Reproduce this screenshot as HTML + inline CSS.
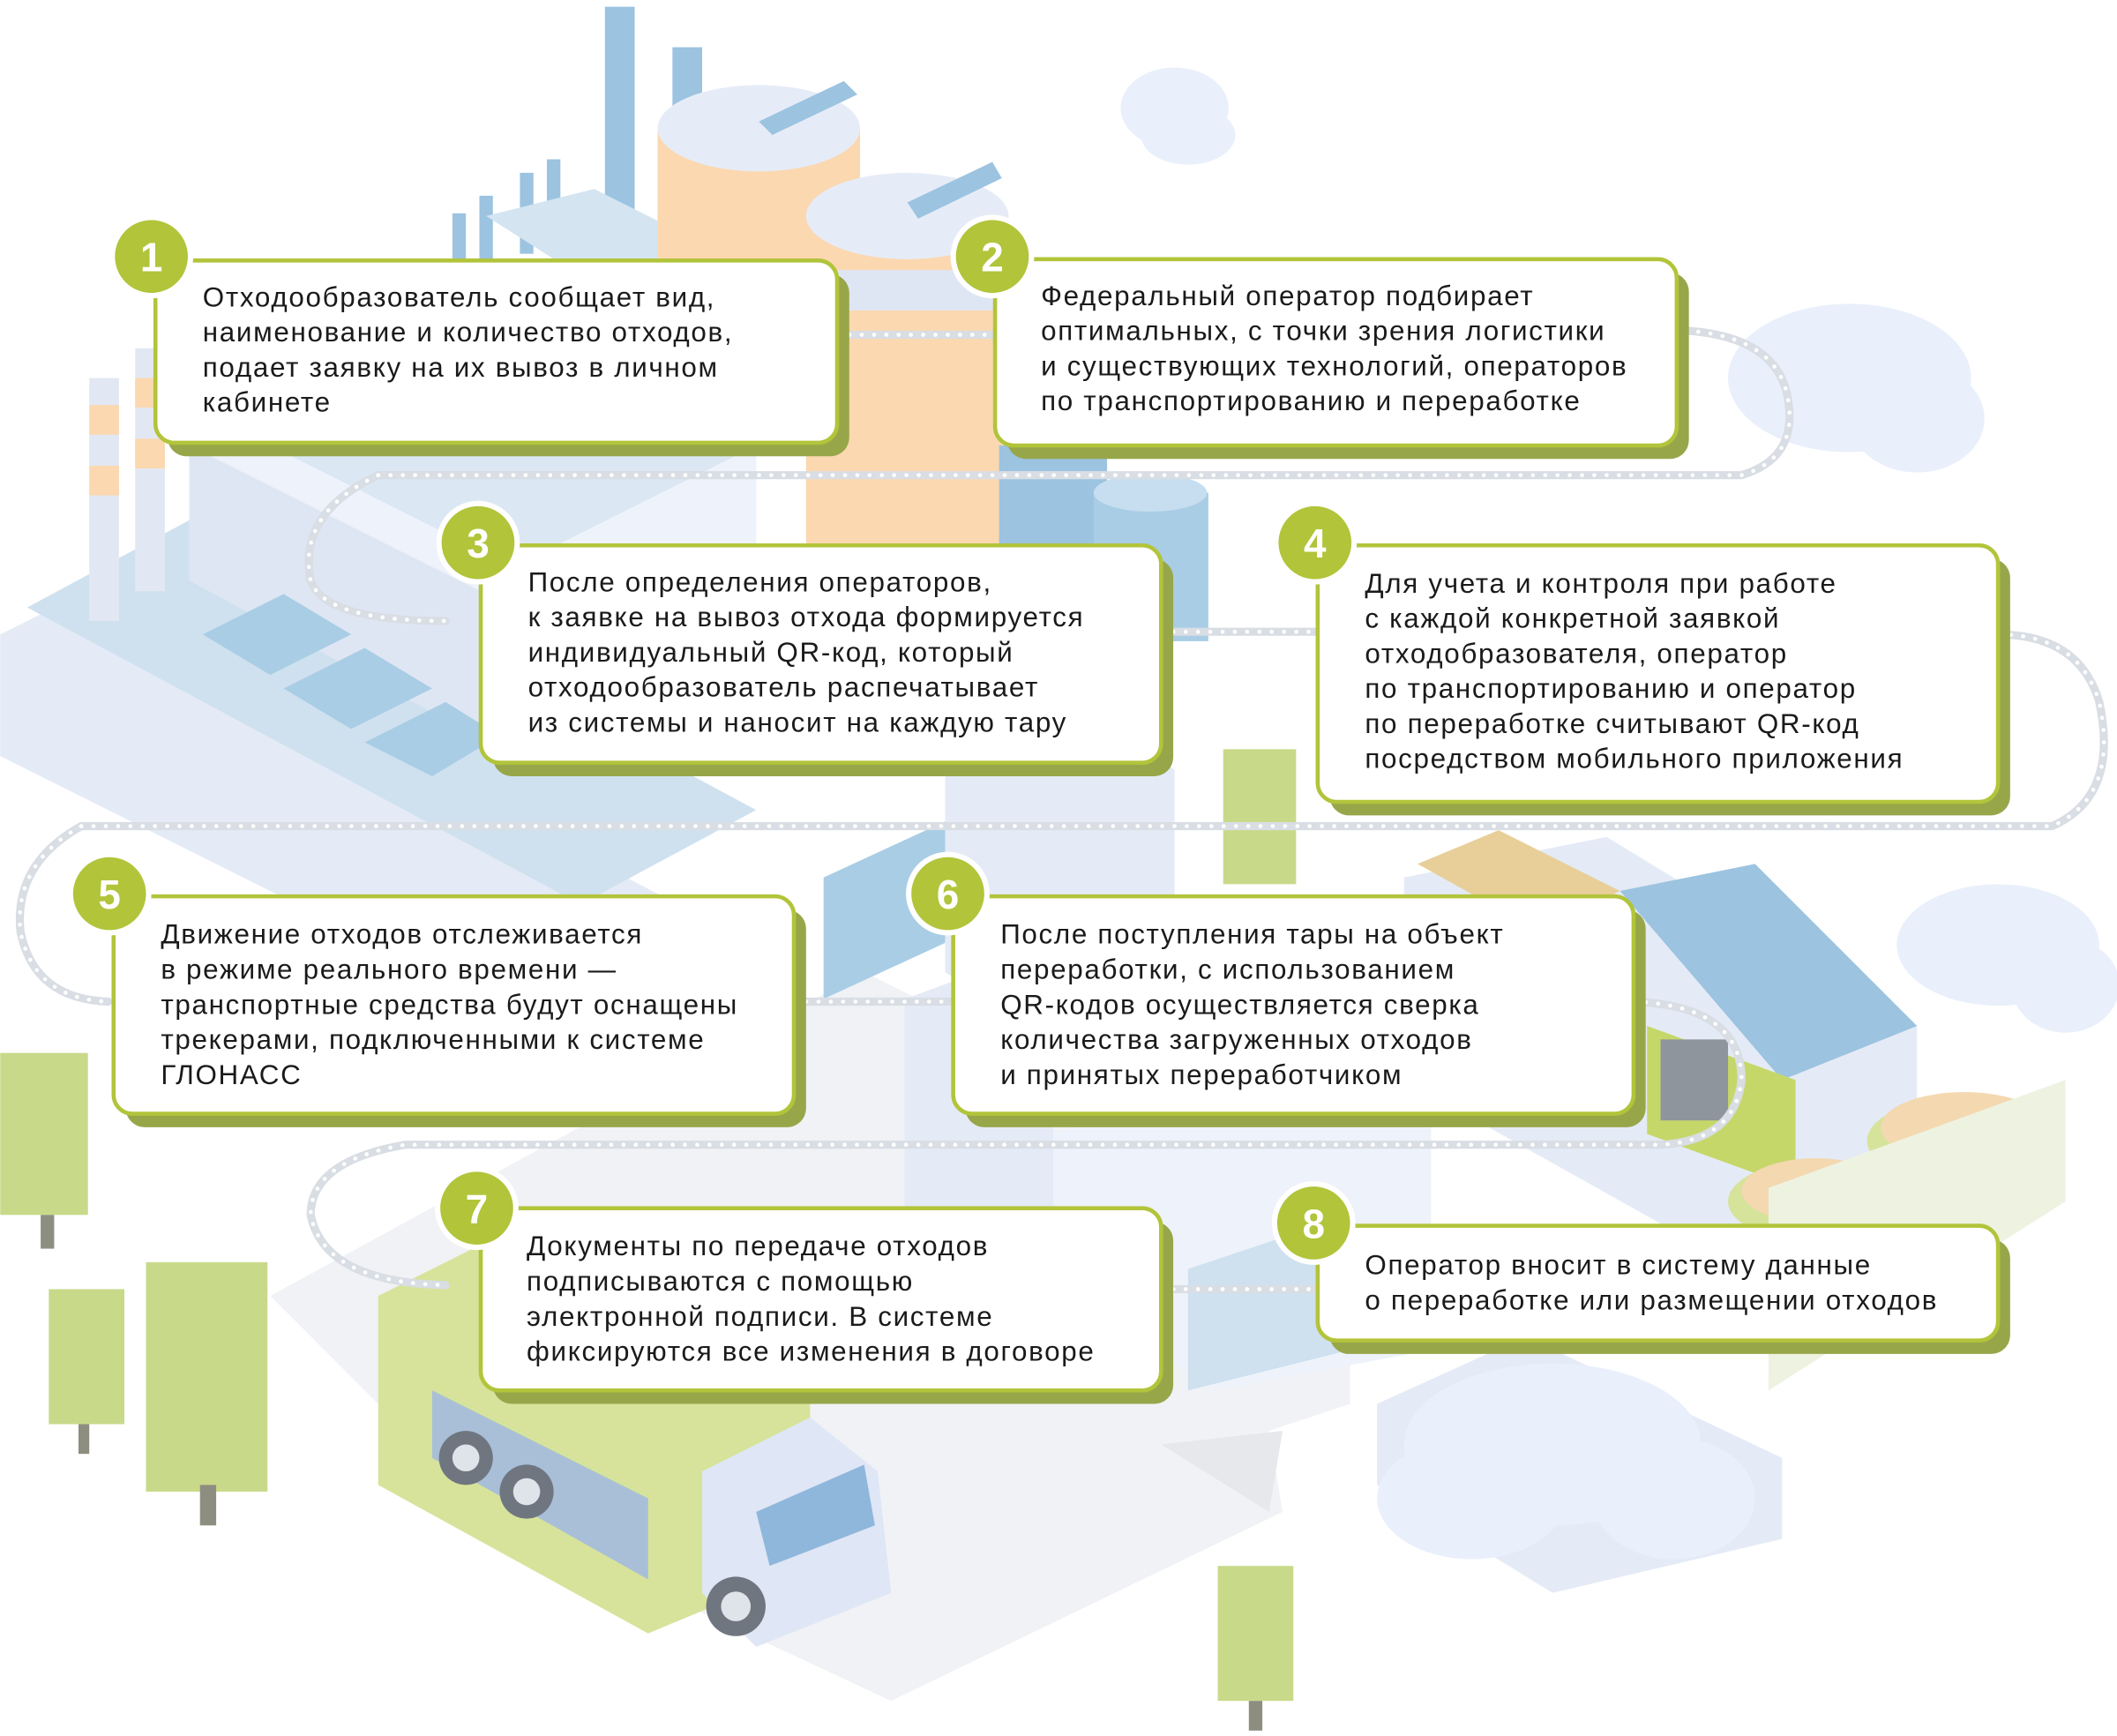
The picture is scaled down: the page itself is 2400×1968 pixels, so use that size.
<!DOCTYPE html>
<html><head><meta charset="utf-8"><style>
html,body{margin:0;padding:0;background:#fff;}
svg{display:block;}
text{font-family:"Liberation Sans","DejaVu Sans",sans-serif;}
</style></head><body>
<svg width="2400" height="1968" viewBox="0 0 1568 1286" xmlns="http://www.w3.org/2000/svg">
<rect width="1568" height="1286" fill="#fff"/>
<!-- road -->
<polygon points="200,960 640,720 1000,900 1000,1040 940,1060 950,1120 660,1260 360,1120" fill="#f1f2f5"/>
<polygon points="860,1070 950,1060 940,1120" fill="#e6e8ec"/>
<!-- factory left -->
<polygon points="0,470 60,440 560,700 560,760 480,800 0,560" fill="#e4ebf6"/>
<polygon points="20,450 150,380 560,600 430,670" fill="#cfe1ef"/>
<polygon points="140,300 330,220 560,330 560,460 380,560 140,420" fill="#eef2fa"/>
<polygon points="140,330 380,450 380,560 140,430" fill="#dfe6f3"/>
<polygon points="140,300 330,220 560,330 380,420" fill="#dbe7f2"/>
<polygon points="150,470 210,440 260,470 200,500" fill="#a9cde5"/>
<polygon points="210,510 270,480 320,510 260,540" fill="#a9cde5"/>
<polygon points="270,550 330,520 370,545 320,575" fill="#a9cde5"/>
<rect x="66" y="280" width="22" height="180" fill="#e2e8f3"/>
<rect x="66" y="300" width="22" height="22" fill="#fbd8b0"/><rect x="66" y="345" width="22" height="22" fill="#fbd8b0"/>
<rect x="100" y="258" width="22" height="180" fill="#e2e8f3"/>
<rect x="100" y="280" width="22" height="22" fill="#fbd8b0"/><rect x="100" y="325" width="22" height="22" fill="#fbd8b0"/>
<!-- pipes top -->
<rect x="448" y="5" width="22" height="160" fill="#9cc3e0"/>
<rect x="498" y="35" width="22" height="170" fill="#9cc3e0"/>
<rect x="405" y="118" width="10" height="70" fill="#9cc3e0"/>
<rect x="385" y="128" width="10" height="60" fill="#9cc3e0"/>
<rect x="355" y="145" width="10" height="50" fill="#9cc3e0"/>
<rect x="335" y="158" width="10" height="40" fill="#9cc3e0"/>
<polygon points="360,160 440,140 560,200 470,230" fill="#d4e4f1"/>
<!-- tanks -->
<rect x="487" y="95" width="150" height="150" fill="#fbd8b0"/>
<ellipse cx="562" cy="95" rx="75" ry="32" fill="#e6ecf7"/>
<rect x="597" y="160" width="150" height="240" fill="#fbd8b0"/>
<rect x="597" y="200" width="150" height="30" fill="#dfe6f3"/>
<ellipse cx="672" cy="400" rx="75" ry="30" fill="#fbd8b0"/>
<ellipse cx="672" cy="160" rx="75" ry="32" fill="#e6ecf7"/>
<polygon points="562,90 625,60 635,70 572,100" fill="#9cc3e0"/>
<polygon points="672,150 735,120 742,132 680,162" fill="#9cc3e0"/>
<rect x="740" y="330" width="80" height="110" fill="#9cc3e0"/>
<rect x="810" y="365" width="85" height="110" fill="#a9cde5"/>
<ellipse cx="852" cy="365" rx="42" ry="14" fill="#c6def0"/>
<!-- middle gate/building -->
<polygon points="610,650 740,590 740,680 610,740" fill="#a9cde5"/>
<polygon points="700,560 780,520 870,570 870,700 760,760 700,720" fill="#e4ebf6"/>
<polygon points="670,740 780,700 780,900 670,900" fill="#e4ebf6"/>
<polygon points="780,840 960,770 1060,830 1060,1000 900,1030 780,950" fill="#eef2fa"/>
<polygon points="880,940 1000,900 1000,1000 880,1030" fill="#cfe0ef"/>
<!-- recycling building -->
<polygon points="1040,650 1190,620 1420,760 1420,880 1290,940 1040,800" fill="#e4ebf6"/>
<polygon points="1200,660 1300,640 1420,760 1320,800" fill="#9cc3e0"/>
<polygon points="1220,760 1330,800 1330,880 1220,840" fill="#c6d76a"/>
<rect x="1230" y="770" width="50" height="60" fill="#8e959c"/>
<polygon points="1050,640 1110,615 1200,660 1140,690" fill="#e8cf9a"/>
<ellipse cx="1455" cy="845" rx="72" ry="32" fill="#d6e39a"/>
<ellipse cx="1455" cy="835" rx="62" ry="26" fill="#f3d8b0"/>
<ellipse cx="1345" cy="890" rx="65" ry="30" fill="#d6e39a"/>
<ellipse cx="1345" cy="882" rx="55" ry="24" fill="#f3d8b0"/>
<polygon points="1310,880 1530,800 1530,890 1310,1030" fill="#eef2e0"/>
<!-- bottom right building -->
<polygon points="1020,1040 1130,990 1320,1080 1320,1140 1150,1180 1020,1100" fill="#e4ebf6"/>
<!-- truck -->
<polygon points="280,960 400,900 600,1010 600,1160 480,1210 280,1100" fill="#d7e39a"/>
<polygon points="320,1030 480,1110 480,1170 320,1080" fill="#a9bfd8"/>
<polygon points="520,1090 600,1050 650,1090 660,1180 560,1220 520,1180" fill="#dfe6f5"/>
<polygon points="560,1120 640,1085 648,1130 570,1160" fill="#8fb7dc"/>
<circle cx="345" cy="1080" r="20" fill="#6f7680"/><circle cx="345" cy="1080" r="10" fill="#dfe3ea"/>
<circle cx="390" cy="1105" r="20" fill="#6f7680"/><circle cx="390" cy="1105" r="10" fill="#dfe3ea"/>
<circle cx="545" cy="1190" r="22" fill="#6f7680"/><circle cx="545" cy="1190" r="11" fill="#dfe3ea"/>
<!-- trees -->
<g fill="#c9d98a">
<rect x="0" y="780" width="65" height="120"/><rect x="30" y="900" width="10" height="25" fill="#8e8e80"/>
<rect x="108" y="935" width="90" height="170"/><rect x="148" y="1100" width="12" height="30" fill="#8e8e80"/>
<rect x="36" y="955" width="56" height="100"/><rect x="58" y="1055" width="8" height="22" fill="#8e8e80"/>
<rect x="906" y="555" width="54" height="100"/>
<rect x="902" y="1160" width="56" height="100"/><rect x="925" y="1260" width="10" height="22" fill="#8e8e80"/>
</g>
<!-- clouds -->
<g fill="#e9f0fb">
<ellipse cx="1370" cy="280" rx="90" ry="55"/><ellipse cx="1420" cy="310" rx="50" ry="40"/>
<ellipse cx="870" cy="80" rx="40" ry="30"/><ellipse cx="880" cy="100" rx="35" ry="22"/>
<ellipse cx="1480" cy="700" rx="75" ry="45"/><ellipse cx="1530" cy="730" rx="40" ry="35"/>
<ellipse cx="1150" cy="1070" rx="110" ry="60"/><ellipse cx="1240" cy="1110" rx="60" ry="45"/><ellipse cx="1090" cy="1110" rx="70" ry="45"/>
</g>
<!-- dotted paths -->
<g fill="none" stroke="#d9dde4" stroke-width="6" stroke-linecap="round">
<path d="M280,352 L1290,352 Q1330,340 1325,300 Q1320,250 1250,245"/>
<path d="M620,248 L740,248"/>
<path d="M280,352 Q220,380 230,430 Q240,460 330,460"/>
<path d="M860,468 L980,468"/>
<path d="M60,612 L1520,612 Q1570,590 1555,520 Q1540,470 1480,470"/>
<path d="M60,612 Q10,640 15,690 Q25,740 80,742"/>
<path d="M588,742 L710,742"/>
<path d="M1210,742 Q1290,745 1290,800 Q1285,845 1230,848 L300,848 Q230,860 230,900 Q240,950 330,952"/>
<path d="M860,955 L980,955"/>
</g>
<g fill="none" stroke="#fff" stroke-width="3" stroke-dasharray="0.1 9" stroke-linecap="round">
<path d="M280,352 L1290,352 Q1330,340 1325,300 Q1320,250 1250,245"/>
<path d="M620,248 L740,248"/>
<path d="M280,352 Q220,380 230,430 Q240,460 330,460"/>
<path d="M860,468 L980,468"/>
<path d="M60,612 L1520,612 Q1570,590 1555,520 Q1540,470 1480,470"/>
<path d="M60,612 Q10,640 15,690 Q25,740 80,742"/>
<path d="M588,742 L710,742"/>
<path d="M1210,742 Q1290,745 1290,800 Q1285,845 1230,848 L300,848 Q230,860 230,900 Q240,950 330,952"/>
<path d="M860,955 L980,955"/>
</g>

<!-- boxes -->
<g font-size="20.5" fill="#1a1a1a" letter-spacing="1.1">
<!-- 1 -->
<rect x="124" y="203" width="505" height="135" rx="14" fill="#98a64a"/>
<rect x="115" y="193" width="505" height="135" rx="14" fill="#fff" stroke="#b2c43a" stroke-width="3"/>
<text x="150" y="227">Отходообразователь сообщает вид,</text>
<text x="150" y="253">наименование и количество отходов,</text>
<text x="150" y="279">подает заявку на их вывоз в личном</text>
<text x="150" y="305">кабинете</text>
<!-- 2 -->
<rect x="746" y="202" width="505" height="138" rx="14" fill="#98a64a"/>
<rect x="737" y="192" width="505" height="138" rx="14" fill="#fff" stroke="#b2c43a" stroke-width="3"/>
<text x="771" y="226">Федеральный оператор подбирает</text>
<text x="771" y="252">оптимальных, с точки зрения логистики</text>
<text x="771" y="278">и существующих технологий, операторов</text>
<text x="771" y="304">по транспортированию и переработке</text>
<!-- 3 -->
<rect x="365" y="414" width="504" height="161" rx="14" fill="#98a64a"/>
<rect x="356" y="404" width="504" height="161" rx="14" fill="#fff" stroke="#b2c43a" stroke-width="3"/>
<text x="391" y="438">После определения операторов,</text>
<text x="391" y="464">к заявке на вывоз отхода формируется</text>
<text x="391" y="490">индивидуальный QR-код, который</text>
<text x="391" y="516">отходообразователь распечатывает</text>
<text x="391" y="542">из системы и наносит на каждую тару</text>
<!-- 4 -->
<rect x="985" y="414" width="504" height="190" rx="14" fill="#98a64a"/>
<rect x="976" y="404" width="504" height="190" rx="14" fill="#fff" stroke="#b2c43a" stroke-width="3"/>
<text x="1011" y="439">Для учета и контроля при работе</text>
<text x="1011" y="465">с каждой конкретной заявкой</text>
<text x="1011" y="491">отходобразователя, оператор</text>
<text x="1011" y="517">по транспортированию и оператор</text>
<text x="1011" y="543">по переработке считывают QR-код</text>
<text x="1011" y="569">посредством мобильного приложения</text>
<!-- 5 -->
<rect x="93" y="674" width="504" height="161" rx="14" fill="#98a64a"/>
<rect x="84" y="664" width="504" height="161" rx="14" fill="#fff" stroke="#b2c43a" stroke-width="3"/>
<text x="119" y="699">Движение отходов отслеживается</text>
<text x="119" y="725">в режиме реального времени —</text>
<text x="119" y="751">транспортные средства  будут оснащены</text>
<text x="119" y="777">трекерами, подключенными к системе</text>
<text x="119" y="803">ГЛОНАСС</text>
<!-- 6 -->
<rect x="715" y="674" width="504" height="161" rx="14" fill="#98a64a"/>
<rect x="706" y="664" width="504" height="161" rx="14" fill="#fff" stroke="#b2c43a" stroke-width="3"/>
<text x="741" y="699">После поступления тары на объект</text>
<text x="741" y="725">переработки, с использованием</text>
<text x="741" y="751">QR-кодов осуществляется сверка</text>
<text x="741" y="777">количества загруженных отходов</text>
<text x="741" y="803">и принятых переработчиком</text>
<!-- 7 -->
<rect x="365" y="905" width="504" height="135" rx="14" fill="#98a64a"/>
<rect x="356" y="895" width="504" height="135" rx="14" fill="#fff" stroke="#b2c43a" stroke-width="3"/>
<text x="390" y="930">Документы по передаче отходов</text>
<text x="390" y="956">подписываются с помощью</text>
<text x="390" y="982">электронной подписи. В системе</text>
<text x="390" y="1008">фиксируются все изменения в договоре</text>
<!-- 8 -->
<rect x="985" y="918" width="504" height="85" rx="14" fill="#98a64a"/>
<rect x="976" y="908" width="504" height="85" rx="14" fill="#fff" stroke="#b2c43a" stroke-width="3"/>
<text x="1011" y="944">Оператор вносит в систему данные</text>
<text x="1011" y="970">о переработке или размещении отходов</text>
</g>
<!-- number circles -->
<g fill="#b2c43a" stroke="#fff" stroke-width="4">
<circle cx="112" cy="190" r="29"/><circle cx="735" cy="190" r="29"/>
<circle cx="354" cy="402" r="29"/><circle cx="974" cy="402" r="29"/>
<circle cx="81" cy="662" r="29"/><circle cx="702" cy="662" r="29"/>
<circle cx="353" cy="895" r="29"/><circle cx="973" cy="906" r="29"/>
</g>
<g fill="#fff" font-size="30" font-weight="bold" text-anchor="middle">
<text x="112" y="201">1</text><text x="735" y="201">2</text>
<text x="354" y="413">3</text><text x="974" y="413">4</text>
<text x="81" y="673">5</text><text x="702" y="673">6</text>
<text x="353" y="906">7</text><text x="973" y="917">8</text>
</g>
</svg>
</body></html>
